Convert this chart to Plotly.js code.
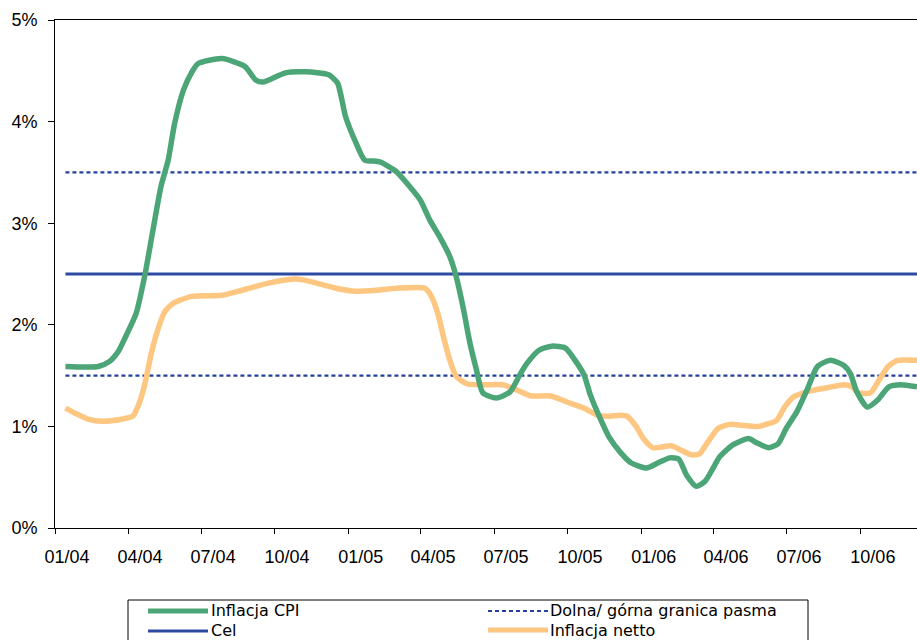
<!DOCTYPE html>
<html>
<head>
<meta charset="utf-8">
<script src="https://cdn.plot.ly/plotly-3.0.1.min.js"></script>
<style>
html,body{margin:0;padding:0;background:#fff;overflow:hidden;}
#chart{width:917px;height:640px;}
</style>
</head>
<body>
<div id="chart"></div>
<script>
// ---- data ----
const cpiDates = ['2004-01-14','2004-02-24','2004-03-09','2004-03-20','2004-03-30','2004-04-11','2004-04-22','2004-05-02','2004-05-12','2004-05-21','2004-05-29','2004-06-09','2004-06-19','2004-06-27','2004-07-27','2004-08-25','2004-09-07','2004-09-17','2004-10-14','2004-11-08','2004-12-07','2004-12-18','2004-12-28','2005-01-10','2005-01-21','2005-02-04','2005-02-10','2005-03-01','2005-03-18','2005-03-31','2005-04-12','2005-04-24','2005-05-07','2005-05-15','2005-05-24','2005-06-01','2005-06-09','2005-06-17','2005-07-04','2005-07-21','2005-08-03','2005-08-11','2005-08-26','2005-09-11','2005-09-28','2005-10-10','2005-10-21','2005-10-29','2005-11-09','2005-11-21','2005-12-06','2005-12-19','2006-01-07','2006-01-21','2006-02-05','2006-02-16','2006-02-26','2006-03-10','2006-03-21','2006-03-31','2006-04-08','2006-04-25','2006-05-14','2006-05-24','2006-06-08','2006-06-20','2006-06-30','2006-07-13','2006-07-26','2006-08-08','2006-08-24','2006-09-10','2006-09-18','2006-09-26','2006-10-09','2006-10-22','2006-11-05','2006-11-20','2006-12-10'];
const cpiValues = [1.59,1.59,1.64,1.74,1.90,2.11,2.49,2.93,3.36,3.62,3.98,4.31,4.48,4.57,4.62,4.54,4.41,4.39,4.48,4.49,4.46,4.38,4.05,3.79,3.62,3.61,3.60,3.51,3.36,3.23,3.03,2.87,2.67,2.47,2.15,1.82,1.56,1.33,1.28,1.34,1.52,1.62,1.75,1.79,1.77,1.65,1.51,1.31,1.10,0.90,0.74,0.64,0.59,0.64,0.69,0.68,0.52,0.41,0.46,0.59,0.70,0.82,0.88,0.84,0.79,0.83,0.98,1.14,1.36,1.59,1.65,1.60,1.52,1.34,1.19,1.26,1.39,1.41,1.39];

const netDates = ['2004-01-14','2004-01-26','2004-02-12','2004-02-29','2004-03-24','2004-04-07','2004-04-15','2004-04-22','2004-04-30','2004-05-08','2004-05-17','2004-05-27','2004-06-19','2004-07-27','2004-08-21','2004-09-23','2004-10-27','2004-11-12','2004-12-16','2005-01-10','2005-02-04','2005-03-01','2005-04-06','2005-04-14','2005-04-22','2005-04-30','2005-05-07','2005-05-15','2005-05-28','2005-06-14','2005-07-12','2005-07-29','2005-08-16','2005-09-10','2005-09-30','2005-10-21','2005-11-07','2005-11-19','2005-12-06','2005-12-14','2005-12-25','2006-01-04','2006-01-15','2006-02-07','2006-02-18','2006-03-04','2006-03-14','2006-03-23','2006-04-06','2006-04-21','2006-05-07','2006-05-26','2006-06-18','2006-06-28','2006-07-09','2006-07-30','2006-08-20','2006-09-10','2006-09-20','2006-09-28','2006-10-13','2006-10-24','2006-11-04','2006-11-16','2006-12-10'];
const netValues = [1.18,1.13,1.07,1.05,1.07,1.10,1.23,1.42,1.72,1.95,2.13,2.21,2.28,2.29,2.34,2.41,2.45,2.43,2.36,2.33,2.34,2.36,2.36,2.28,2.11,1.85,1.65,1.49,1.42,1.41,1.41,1.36,1.30,1.30,1.24,1.18,1.11,1.10,1.11,1.10,1.00,0.87,0.79,0.81,0.77,0.72,0.73,0.83,0.98,1.02,1.01,1.00,1.06,1.19,1.29,1.35,1.38,1.41,1.39,1.33,1.33,1.46,1.59,1.65,1.65];

const refDates = ['2004-01-14','2006-12-31'];
const targetValues = [2.5, 2.5];
const upperBand = [3.5, 3.5];
const lowerBand = [1.5, 1.5];

const quarterTicks = ['2004-01-01','2004-04-01','2004-07-01','2004-10-01','2005-01-01','2005-04-01','2005-07-01','2005-10-01','2006-01-01','2006-04-01','2006-07-01','2006-10-01'];
const labelPositions = ['2004-01-16','2004-04-16','2004-07-16','2004-10-16','2005-01-16','2005-04-16','2005-07-16','2005-10-16','2006-01-16','2006-04-16','2006-07-16','2006-10-16'];
const tickLabels = ['01/04','04/04','07/04','10/04','01/05','04/05','07/05','10/05','01/06','04/06','07/06','10/06'];
const yTicks = [0,1,2,3,4,5];
const yTickLabels = ['0%','1%','2%','3%','4%','5%'];

const legendNames = ['Inflacja CPI','Dolna/ górna granica pasma','Cel','Inflacja netto'];

// ---- styles ----
const GREEN = '#4ba577', ORANGE = '#fdc681', BLUE = '#2c4aa2', DOTBLUE = '#23409c';
const DOT = '4px,3px';
const AX_FONT = {family:'Arial', size:18, color:'#000'};
const LEG_FONT = {family:'DejaVu Sans', size:16, color:'#000'};

const traces = [
  {x: refDates, y: upperBand, type:'scatter', mode:'lines', name: legendNames[1],
   line:{color:DOTBLUE, width:2.2, dash:DOT}, hoverinfo:'skip'},
  {x: refDates, y: lowerBand, type:'scatter', mode:'lines', name: legendNames[1],
   line:{color:DOTBLUE, width:2.2, dash:DOT}, hoverinfo:'skip'},
  {x: refDates, y: targetValues, type:'scatter', mode:'lines', name: legendNames[2],
   line:{color:BLUE, width:3}},
  {x: netDates, y: netValues, type:'scatter', mode:'lines', name: legendNames[3],
   line:{color:ORANGE, width:5.5, shape:'spline', smoothing:0.6}},
  {x: cpiDates, y: cpiValues, type:'scatter', mode:'lines', name: legendNames[0],
   line:{color:GREEN, width:5.5, shape:'spline', smoothing:0.6}}
];

// pixel -> paper helpers for the hand-built legend box
const L = 55, T = 20, W = 862, H = 508;
const px = v => (v - L) / W;
const py = v => (T + H - v) / H;

const shapes = [
  {type:'rect', xref:'paper', yref:'paper', x0:px(128), x1:px(808), y0:py(600), y1:py(665),
   line:{color:'#000', width:1}, fillcolor:'rgba(0,0,0,0)'},
  {type:'line', xref:'paper', yref:'paper', x0:px(148), x1:px(208), y0:py(611), y1:py(611),
   line:{color:GREEN, width:5}},
  {type:'line', xref:'paper', yref:'paper', x0:px(148), x1:px(208), y0:py(631), y1:py(631),
   line:{color:BLUE, width:3}},
  {type:'line', xref:'paper', yref:'paper', x0:px(488), x1:px(548), y0:py(611), y1:py(611),
   line:{color:DOTBLUE, width:2.2, dash:DOT}},
  {type:'line', xref:'paper', yref:'paper', x0:px(488), x1:px(548), y0:py(630), y1:py(630),
   line:{color:ORANGE, width:5}}
];

const legendText = [
  {name: legendNames[0], x:210, y:610},
  {name: legendNames[2], x:210, y:630},
  {name: legendNames[1], x:549, y:610},
  {name: legendNames[3], x:549, y:630}
];
const annotations = legendText.map(t => ({
  xref:'paper', yref:'paper', x:px(t.x), y:py(t.y), xanchor:'left', yanchor:'middle',
  text:t.name, showarrow:false, font:LEG_FONT, borderpad:0
}));

const layout = {
  width:917, height:640,
  margin:{l:L, r:0, t:T, b:640 - T - H},
  paper_bgcolor:'#fff', plot_bgcolor:'#fff',
  font:{family:'Arial', size:18, color:'#000'},
  showlegend:false,
  xaxis:{
    type:'date', range:['2004-01-01','2006-12-10'],
    showgrid:false, zeroline:false,
    showline:true, linecolor:'#000', linewidth:1, mirror:true,
    tickmode:'array', tickvals:labelPositions, ticktext:tickLabels,
    ticks:'', ticklabelstandoff:12, tickfont:AX_FONT,
    minor:{tickmode:'array', tickvals:quarterTicks, ticks:'outside', ticklen:5, tickcolor:'#000', tickwidth:1, showgrid:false}
  },
  yaxis:{
    range:[0,5], showgrid:false, zeroline:false,
    showline:true, linecolor:'#000', linewidth:1,
    tickmode:'array', tickvals:yTicks, ticktext:yTickLabels,
    ticks:'outside', ticklen:6, tickcolor:'#000', tickfont:AX_FONT, ticklabelstandoff:7
  },
  shapes: shapes,
  annotations: annotations
};

Plotly.newPlot('chart', traces, layout, {displayModeBar:false, staticPlot:true});
</script>
</body>
</html>
